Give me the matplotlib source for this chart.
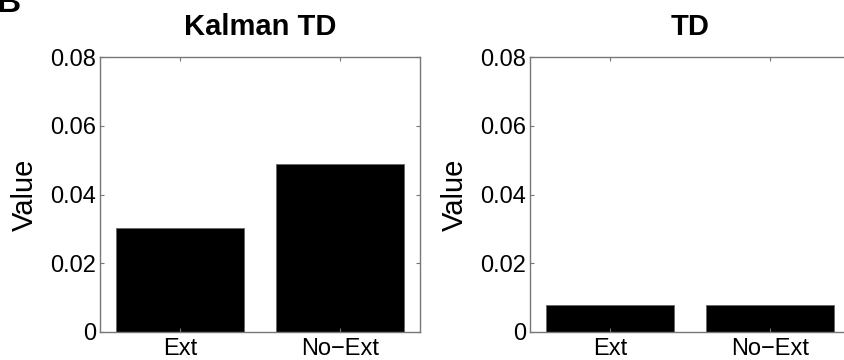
import matplotlib
matplotlib.use("Agg")
import matplotlib.pyplot as plt

plt.rcParams["font.family"] = ["Liberation Sans", "DejaVu Sans"]

# Datos de cada modelo
conditions = ["Ext", "No\u2212Ext"]
kalman_td = [0.0303, 0.0488]
td = [0.0078, 0.0078]
yticks = [0, 0.02, 0.04, 0.06, 0.08]
ytick_labels = ["0", "0.02", "0.04", "0.06", "0.08"]

fig = plt.figure(figsize=(8.44, 3.6), dpi=100)

W = 320 / 844
H = 275 / 360
bottom = 28 / 360
ax1 = fig.add_axes([100 / 844, bottom, W, H])
ax2 = fig.add_axes([530 / 844, bottom, W, H])

for ax, vals, title in [(ax1, kalman_td, "Kalman TD"), (ax2, td, "TD")]:
    x = [1, 2]
    ax.bar(x, vals, width=0.8, color="black", edgecolor="#666666", linewidth=0.6)
    ax.set_xlim(0.5, 2.5)
    ax.set_ylim(0, 0.08)
    ax.set_xticks(x)
    ax.set_xticklabels(conditions, fontsize=17)
    ax.set_yticks(yticks)
    ax.set_yticklabels(ytick_labels, fontsize=17)
    ax.tick_params(direction="in", length=3, width=0.8, color="#777777",
                   top=True, right=True, pad=3)
    ax.tick_params(axis="x", pad=4)
    for s in ax.spines.values():
        s.set_color("#777777")
        s.set_linewidth(1.0)
    ax.set_ylabel("Value", fontsize=21, labelpad=8)
    ax.set_title(title, fontsize=21, fontweight="bold", pad=16)

# letra del panel (cortada arriba)
fig.text(-0.004, 1 - 12 / 360, "B", fontsize=24, fontweight="bold",
         ha="left", va="baseline")

fig.savefig("out.png", dpi=100)
